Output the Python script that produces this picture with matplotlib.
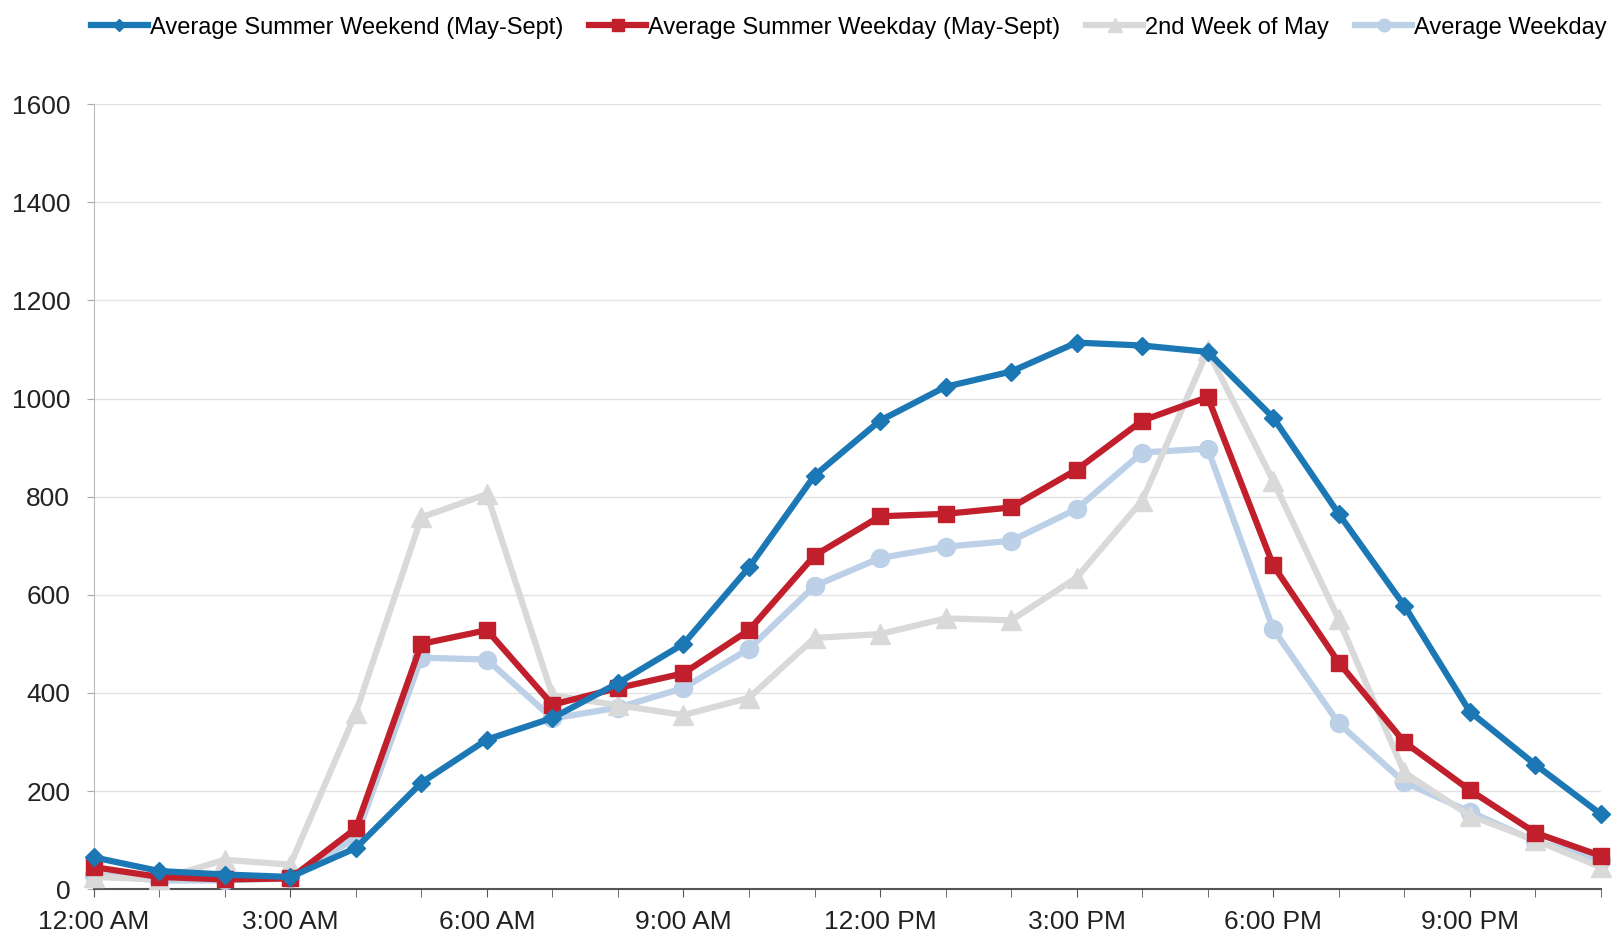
import matplotlib
matplotlib.use('Agg')
import matplotlib.pyplot as plt
import numpy as np

hours = list(range(24))
tick_labels = ['12:00 AM', '3:00 AM', '6:00 AM', '9:00 AM',
               '12:00 PM', '3:00 PM', '6:00 PM', '9:00 PM']

summer_weekend = [65, 37, 30, 25, 84, 217, 305, 349, 420, 500, 656, 843,
                  955, 1024, 1055, 1114, 1108, 1095, 961, 765, 578, 362, 254, 153]
summer_weekday = [45, 25, 20, 22, 124, 500, 528, 376, 410, 440, 528, 680,
                  760, 765, 778, 855, 955, 1003, 660, 462, 300, 202, 115, 68]
may_week2 = [25, 20, 60, 50, 360, 758, 805, 395, 375, 355, 390, 512,
             520, 552, 548, 635, 792, 1098, 832, 550, 238, 150, 100, 45]
avg_weekday = [30, 18, 18, 22, 105, 472, 468, 348, 370, 410, 490, 618,
               675, 698, 710, 775, 890, 898, 530, 338, 218, 158, 98, 60]

plt.rcParams['font.family'] = ['Liberation Sans', 'DejaVu Sans']

fig = plt.figure(figsize=(16.17, 9.38), dpi=100)
ax = fig.add_axes([0.058, 0.052, 0.932, 0.837])

series = [
    ('Average Summer Weekend (May-Sept)', summer_weekend, '#1c78b5', 'D', 9),
    ('Average Summer Weekday (May-Sept)', summer_weekday, '#c01f2b', 's', 12),
    ('2nd Week of May', may_week2, '#d9d9d9', '^', 14),
    ('Average Weekday', avg_weekday, '#bcd0e8', 'o', 13),
]
# draw in reverse so the weekend line sits on top
for name, vals, color, marker, ms in reversed(series):
    ax.plot(hours, vals, color=color, lw=4.5, marker=marker, ms=ms,
            markeredgecolor=color, label=name, clip_on=False, zorder=3)

ax.set_xlim(0, 23)
ax.set_ylim(0, 1600)
ax.set_yticks(np.arange(0, 1601, 200))
ax.set_xticks(hours, minor=True)
ax.set_xticks(range(0, 24, 3))
ax.set_xticklabels(tick_labels)
ax.tick_params(axis='both', labelsize=19, colors='#222222')
ax.tick_params(axis='x', which='both', length=6, color='#555555', pad=9)
ax.tick_params(axis='y', length=5, color='#aaaaaa', pad=12)
ax.grid(axis='y', color='#e3e3e3', lw=1)
ax.set_axisbelow(True)
for side in ['top', 'right']:
    ax.spines[side].set_visible(False)
ax.spines['left'].set_color('#bbbbbb')
ax.spines['bottom'].set_color('#555555')
ax.spines['bottom'].set_linewidth(1.5)

handles, labels = ax.get_legend_handles_labels()
fig.legend(handles[::-1], labels[::-1], loc='upper center', ncol=4,
           bbox_to_anchor=(0.525, 1.005), frameon=False, fontsize=17,
           handlelength=2.4, handletextpad=0.1, columnspacing=1.1,
           markerscale=0.7)

fig.savefig('out.png', dpi=100, facecolor='white')
